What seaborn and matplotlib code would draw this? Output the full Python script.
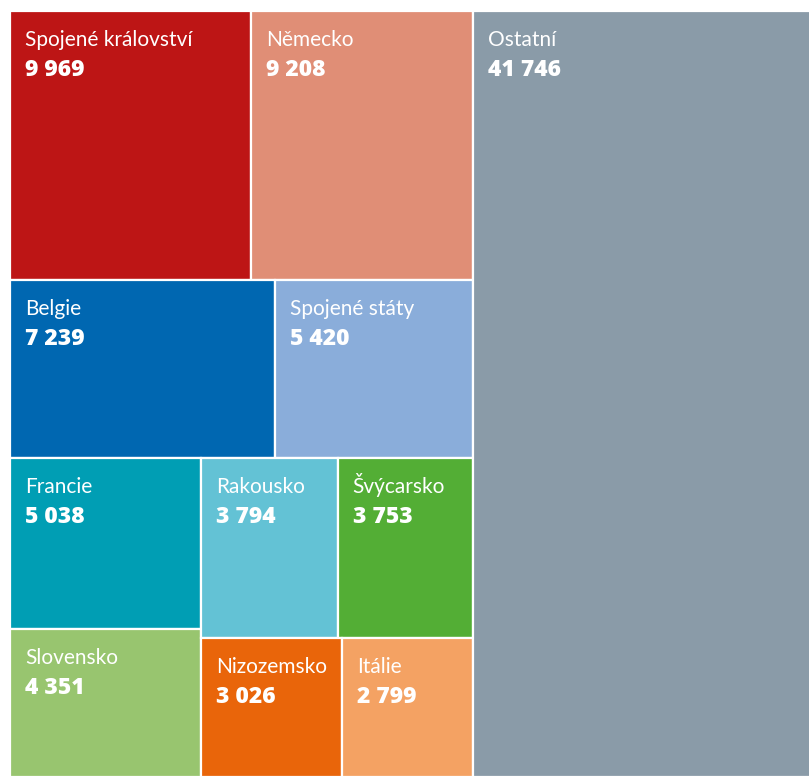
import matplotlib
matplotlib.use("Agg")
import matplotlib.pyplot as plt
from matplotlib.patches import Rectangle
import seaborn as sns

# ---- data ----
countries = ["Spojené království", "Německo", "Belgie", "Spojené státy", "Francie",
             "Rakousko", "Švýcarsko", "Slovensko", "Nizozemsko", "Itálie", "Ostatní"]
values = [9969, 9208, 7239, 5420, 5038, 3794, 3753, 4351, 3026, 2799, 41746]
colors = ["#BD1515", "#E08E76", "#0067B1", "#8AADDA", "#009EB4",
          "#63C2D5", "#53AE35", "#98C56F", "#E9650A", "#F4A263", "#8A9BA8"]

# layout structure (indices into the lists above): 'h' splits width, 'v' splits height
structure = ("h", [
    ("v", [
        ("h", [0, 1]),
        ("h", [2, 3]),
        ("h", [
            ("v", [4, 7]),
            ("v", [("h", [5, 6]), ("h", [8, 9])]),
        ]),
    ]),
    10,
])

sns.set_theme(style="white")
plt.rcParams["font.family"] = ["Lato", "DejaVu Sans"]
palette = sns.color_palette(colors)


def total(node):
    if isinstance(node, int):
        return values[node]
    return sum(total(c) for c in node[1])


rects = {}


def layout(node, x, y, w, h):
    if isinstance(node, int):
        rects[node] = (x, y, w, h)
        return
    orient, children = node
    s = total(node)
    pos = 0.0
    for c in children:
        frac = total(c) / s
        if orient == "h":
            layout(c, x + pos * w, y, frac * w, h)
        else:
            layout(c, x, y + pos * h, w, frac * h)
        pos += frac


layout(structure, 0.0, 0.0, 1.0, 1.0)

W, H = 809, 777
fig = plt.figure(figsize=(W / 100, H / 100), dpi=100)
# the treemap runs past the right edge of the picture (cropped, as in the original)
ax = fig.add_axes([10 / W, 0, 817 / W, (H - 11) / H])
ax.set_xlim(0, 1)
ax.set_ylim(1, 0)
ax.axis("off")

for i, (x, y, w, h) in rects.items():
    ax.add_patch(Rectangle((x, y), w, h, facecolor=palette[i], edgecolor="white",
                           linewidth=1.6, clip_on=False))
    ax.annotate(countries[i], xy=(x, y), xytext=(15, -35), textcoords="offset pixels",
                ha="left", va="baseline", color="white", fontsize=15, fontweight="normal")
    ax.annotate(f"{values[i]:,}".replace(",", " "), xy=(x, y), xytext=(15, -65),
                textcoords="offset pixels", ha="left", va="baseline", color="white",
                fontsize=16.5, fontweight=800, family=["Open Sans", "DejaVu Sans"])

fig.savefig("out.png", dpi=100)
